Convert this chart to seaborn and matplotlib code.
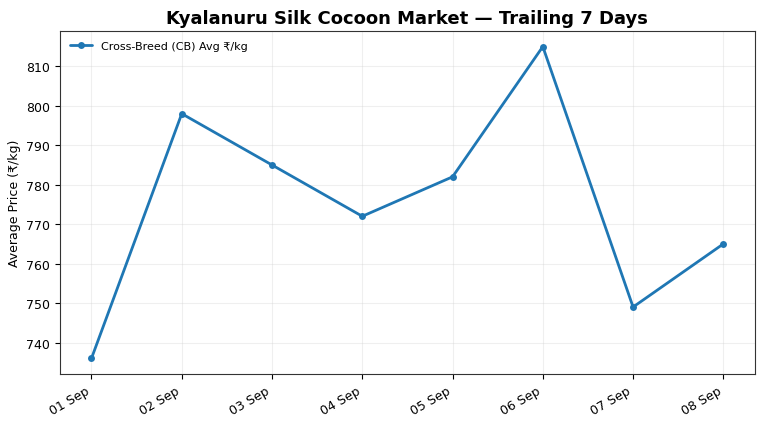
import numpy as np
import pandas as pd
import matplotlib
matplotlib.use("Agg")
import matplotlib.pyplot as plt
import seaborn as sns

# Daily average prices
dates = ["01 Sep", "02 Sep", "03 Sep", "04 Sep", "05 Sep", "06 Sep", "07 Sep", "08 Sep"]
prices = [736, 798, 785, 772, 782, 815, 749, 765]

df = pd.DataFrame({"date": pd.to_datetime([d + " 2024" for d in dates], format="%d %b %Y"),
                   "price": prices})

sns.set_style("ticks")
plt.rcParams["font.family"] = ["DejaVu Sans"]
plt.rcParams["text.color"] = "black"
plt.rcParams["axes.labelcolor"] = "black"
plt.rcParams["xtick.color"] = "black"
plt.rcParams["ytick.color"] = "black"

fig, ax = plt.subplots(figsize=(7.68, 4.27), dpi=100)
sns.lineplot(data=df, x="date", y="price", marker="o", markersize=5, markeredgewidth=0,
             color="#1f77b4", linewidth=2, label="Cross-Breed (CB) Avg \u20b9/kg", ax=ax)

ax.set_xticks(df["date"])
ax.set_xticklabels(dates)
plt.setp(ax.get_xticklabels(), rotation=30, ha="right")
ax.tick_params(labelsize=9)
ax.set_xlabel("")
ax.set_ylabel("Average Price (\u20b9/kg)", fontsize=9)
ax.set_title("Kyalanuru Silk Cocoon Market \u2014 Trailing 7 Days", fontsize=13, fontweight="bold")
ax.grid(True, alpha=0.3)
for s in ax.spines.values():
    s.set_color("#333333")
ax.legend(loc="upper left", frameon=False, fontsize=8)

fig.subplots_adjust(left=0.078, right=0.983, top=0.925, bottom=0.122)
fig.savefig("out.png", dpi=100)
